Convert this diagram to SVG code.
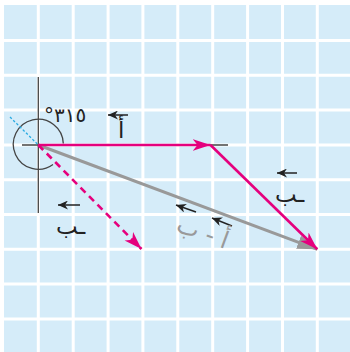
<svg xmlns="http://www.w3.org/2000/svg" width="350" height="352" viewBox="0 0 350 352">
<defs>
<style>
.grid{stroke:#fff;stroke-width:3}
.axis{stroke:#444;stroke-width:1.3;fill:none}
.mag{stroke:#e5007d;stroke-width:2.6;fill:none}
.lbl{font-family:"DejaVu Sans",sans-serif;font-size:23px;fill:#222}
.vec{stroke:#222;stroke-width:1.5;fill:none}
</style>
<marker id="mh" markerUnits="userSpaceOnUse" markerWidth="20" markerHeight="14" refX="18" refY="6" orient="auto" viewBox="0 0 20 12">
<path d="M0,0 L18,6 L0,12 L5,6 Z" fill="#e5007d"/>
</marker>
<marker id="gh" markerUnits="userSpaceOnUse" markerWidth="22" markerHeight="16" refX="20" refY="7" orient="auto" viewBox="0 0 22 14">
<path d="M0,0 L20,7 L0,14 Z" fill="#999"/>
</marker>
<marker id="ah" markerUnits="userSpaceOnUse" markerWidth="10" markerHeight="9" refX="0" refY="4.5" orient="auto" viewBox="0 0 10 9">
<path d="M0,4.5 L10,0 L7,4.5 L10,9 Z" fill="#222"/>
</marker>
</defs>
<rect x="0" y="0" width="350" height="352" fill="#fff"/>
<g id="grid">
<rect x="4" y="5" width="346" height="347" fill="#d5ecf9"/>
<path class="grid" d="M38.3,5V352 M73.2,5V352 M108.1,5V352 M142.9,5V352 M177.8,5V352 M212.7,5V352 M247.6,5V352 M282.5,5V352 M317.3,5V352 M4,40.5H350 M4,75.3H350 M4,110.1H350 M4,144.9H350 M4,179.7H350 M4,214.5H350 M4,249.3H350 M4,284.1H350 M4,318.9H350"/>
</g>
<g id="axes">
<line class="axis" x1="38.3" y1="77" x2="38.3" y2="213"/>
<line class="axis" x1="22" y1="145" x2="228" y2="145"/>
<path class="axis" d="M53,164.5 A25,25 0 1 1 63.3,143.5"/>
<line x1="10" y1="117" x2="38.3" y2="145" stroke="#29abe2" stroke-width="1.3" stroke-dasharray="2.5,2"/>
</g>
<g id="connectors">
<line x1="38.3" y1="145" x2="317.3" y2="249.3" stroke="#999" stroke-width="3" marker-end="url(#gh)"/>
<line class="mag" x1="38.3" y1="145" x2="210.5" y2="145" marker-end="url(#mh)"/>
<line class="mag" x1="210.5" y1="145" x2="317.3" y2="249.3" marker-end="url(#mh)"/>
<line class="mag" x1="38.3" y1="145" x2="141.5" y2="249" stroke-width="3" stroke-dasharray="7,5" marker-end="url(#mh)"/>
</g>
<g id="angle-label">
<text class="lbl" x="44" y="122" style="font-size:20px;letter-spacing:2.5px">°٣١٥</text>
</g>
<g id="label-a">
<line class="vec" x1="108" y1="115" x2="128" y2="115" marker-start="url(#ah)"/>
<text class="lbl" x="118" y="138">أ</text>
</g>
<g id="label-b">
<line class="vec" x1="277" y1="173" x2="297" y2="173" marker-start="url(#ah)"/>
<text class="lbl" x="275" y="202">ـب</text>
</g>
<g id="label-minus-b">
<line class="vec" x1="58" y1="205" x2="80" y2="205" marker-start="url(#ah)"/>
<text class="lbl" x="56" y="234">ـب</text>
</g>
<g id="label-sum">
<line class="vec" x1="176" y1="205" x2="196" y2="212" marker-start="url(#ah)"/>
<line class="vec" x1="212" y1="218" x2="232" y2="226" marker-start="url(#ah)"/>
<text class="lbl" x="200" y="240" text-anchor="middle" style="fill:#999;font-size:24px" transform="rotate(20 200 240)">أ - ب</text>
</g>
</svg>
